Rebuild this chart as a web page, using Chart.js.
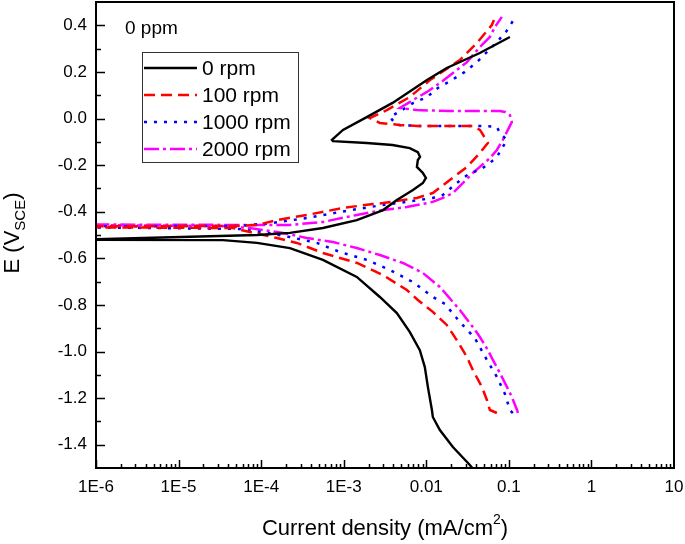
<!DOCTYPE html>
<html>
<head>
<meta charset="utf-8">
<script src="https://cdn.jsdelivr.net/npm/chart.js@4.4.1/dist/chart.umd.min.js"></script>
<style>
  html, body { margin: 0; padding: 0; background: #fff; }
  #wrap { width: 685px; height: 544px; }
</style>
</head>
<body>
<div id="wrap"><canvas id="polChart" width="685" height="544"></canvas></div>
<script>
// Tick labels
const xTickValues = [1e-6, 1e-5, 1e-4, 1e-3, 0.01, 0.1, 1, 10];
const xTickLabels = ['1E-6', '1E-5', '1E-4', '1E-3', '0.01', '0.1', '1', '10'];
const yTickValues = [-1.4, -1.2, -1.0, -0.8, -0.6, -0.4, -0.2, 0.0, 0.2, 0.4];
const seriesLabels = ['0 rpm', '100 rpm', '1000 rpm', '2000 rpm'];
const noteText = '0 ppm';

// 0 rpm: cathodic branch (bottom up), then anodic branch
const current0 = [0.038, 0.0337, 0.021, 0.0146, 0.012, 0.0117, 0.01045, 0.0096, 0.00835, 0.0063, 0.0044, 0.00274, 0.00144, 0.00056, 0.000223, 0.000089, 0.0000345, 0.0000008,
  0.0000008, 0.000089, 0.000223, 0.00056, 0.00144, 0.003, 0.0044, 0.0069, 0.0091, 0.0099, 0.0091, 0.0077, 0.0079, 0.0084, 0.0079, 0.0063, 0.0039, 0.0019, 0.00074, 0.00072, 0.00098, 0.0019, 0.0039, 0.0102, 0.0177, 0.0445, 0.103];
const potential0 = [-1.51, -1.487, -1.41, -1.337, -1.281, -1.251, -1.152, -1.067, -0.994, -0.916, -0.835, -0.766, -0.680, -0.607, -0.556, -0.534, -0.522, -0.521,
  -0.519, -0.500, -0.491, -0.470, -0.436, -0.393, -0.350, -0.307, -0.277, -0.255, -0.234, -0.208, -0.178, -0.165, -0.144, -0.127, -0.114, -0.105, -0.097, -0.092, -0.049, 0.006, 0.067, 0.165, 0.217, 0.281, 0.350];

// 100 rpm
const current100 = [0.0716, 0.0589, 0.0542, 0.0471, 0.0366, 0.0311, 0.0234, 0.0177, 0.012, 0.0079, 0.00582, 0.00299, 0.00145, 0.00056, 0.000271, 0.000155, 0.000073, 0.0000456, 0.0000008,
  0.0000008, 0.0000456, 0.000089, 0.000155, 0.000358, 0.00098, 0.00226, 0.00299, 0.00769, 0.012, 0.0193, 0.0311, 0.0446, 0.0557, 0.0471, 0.0446, 0.0366, 0.0193, 0.0077, 0.00479, 0.00274, 0.00207, 0.00333, 0.0063, 0.0111, 0.0255, 0.041, 0.0622, 0.066];
const potential100 = [-1.264, -1.251, -1.208, -1.152, -1.079, -1.024, -0.951, -0.886, -0.830, -0.779, -0.736, -0.672, -0.620, -0.577, -0.534, -0.513, -0.487, -0.470, -0.467,
  -0.463, -0.461, -0.457, -0.436, -0.414, -0.384, -0.367, -0.363, -0.341, -0.320, -0.264, -0.208, -0.148, -0.105, -0.062, -0.049, -0.032, -0.032, -0.032, -0.028, -0.019, 0.002, 0.036, 0.092, 0.165, 0.251, 0.324, 0.401, 0.423];

// 1000 rpm
const current1000 = [0.1117, 0.1028, 0.0896, 0.0716, 0.0542, 0.0387, 0.0255, 0.0168, 0.012, 0.00689, 0.00362, 0.00191, 0.000899, 0.000474, 0.000223, 0.000117, 0.000055, 0.0000008,
  0.0000008, 0.000055, 0.000139, 0.000358, 0.000899, 0.00299, 0.00582, 0.012, 0.0159, 0.0234, 0.0337, 0.0446, 0.0589, 0.0716, 0.0845, 0.0947, 0.0778, 0.0716, 0.0471, 0.0159, 0.00835, 0.0044, 0.00362, 0.00507, 0.00689, 0.0102, 0.0138, 0.0204, 0.0293, 0.041, 0.0542, 0.0716, 0.092, 0.1117];
const potential1000 = [-1.264, -1.251, -1.182, -1.109, -1.036, -0.942, -0.873, -0.796, -0.766, -0.702, -0.650, -0.607, -0.573, -0.534, -0.509, -0.491, -0.474, -0.467,
  -0.463, -0.461, -0.448, -0.427, -0.401, -0.371, -0.358, -0.341, -0.328, -0.277, -0.234, -0.221, -0.191, -0.165, -0.122, -0.092, -0.062, -0.036, -0.032, -0.032, -0.032, -0.028, 0.006, 0.036, 0.066, 0.092, 0.131, 0.165, 0.200, 0.242, 0.285, 0.328, 0.371, 0.418];

// 2000 rpm
const current2000 = [0.1285, 0.1256, 0.1086, 0.0947, 0.0778, 0.064, 0.0557, 0.0446, 0.0366, 0.0255, 0.0146, 0.0091, 0.00521, 0.00274, 0.00144, 0.00074, 0.000358, 0.000184, 0.000073, 0.0000315, 0.0000008,
  0.0000008, 0.000089, 0.000223, 0.00056, 0.00144, 0.00299, 0.00582, 0.012, 0.0159, 0.021, 0.0277, 0.0366, 0.0471, 0.0589, 0.0716, 0.0845, 0.0973, 0.1086, 0.103, 0.0896, 0.0778, 0.0193, 0.00769, 0.00479, 0.00689, 0.0102, 0.0146, 0.021, 0.0311, 0.0446, 0.0589, 0.0678, 0.0822];
const potential2000 = [-1.264, -1.251, -1.195, -1.152, -1.092, -1.036, -0.994, -0.938, -0.895, -0.822, -0.723, -0.663, -0.620, -0.586, -0.556, -0.530, -0.513, -0.491, -0.470, -0.461, -0.458,
  -0.455, -0.457, -0.457, -0.444, -0.414, -0.393, -0.380, -0.358, -0.341, -0.320, -0.277, -0.234, -0.200, -0.170, -0.135, -0.092, -0.049, -0.015, 0.015, 0.028, 0.032, 0.032, 0.036, 0.045, 0.079, 0.114, 0.152, 0.195, 0.242, 0.307, 0.350, 0.393, 0.436];

const FONT = '"Liberation Sans", Arial, Helvetica, sans-serif';

function toPoints(xs, ys) {
    return xs.map((v, i) => ({ x: v, y: ys[i] }));
}

const datasets = [
    { label: seriesLabels[0], data: toPoints(current0, potential0), borderColor: '#000000', borderWidth: 2.4, borderDash: [] },
    { label: seriesLabels[1], data: toPoints(current100, potential100), borderColor: '#ff0000', borderWidth: 2.5, borderDash: [11, 6] },
    { label: seriesLabels[2], data: toPoints(current1000, potential1000), borderColor: '#0000ff', borderWidth: 2.5, borderDash: [3, 7] },
    { label: seriesLabels[3], data: toPoints(current2000, potential2000), borderColor: '#ff00ff', borderWidth: 2.5, borderDash: [15, 4, 3, 4] }
].map(d => Object.assign(d, { showLine: true, pointRadius: 0, tension: 0, fill: false }));

// Frame, inward ticks, axis titles, note and legend
const decorPlugin = {
    id: 'decor',
    afterDraw(chart) {
        const { ctx, chartArea: a, scales: { x, y } } = chart;
        ctx.save();
        ctx.strokeStyle = '#000';
        ctx.fillStyle = '#000';

        // x ticks (major + minor), pointing inward
        ctx.lineWidth = 1.5;
        ctx.beginPath();
        for (let d = -6; d <= 0; d++) {
            for (let m = 1; m <= 9; m++) {
                const px = Math.round(x.getPixelForValue(m * Math.pow(10, d))) + 0.5;
                const len = m === 1 ? 8 : 4;
                ctx.moveTo(px, a.bottom);
                ctx.lineTo(px, a.bottom - len);
            }
        }
        // y ticks
        yTickValues.forEach(v => {
            const py = Math.round(y.getPixelForValue(v)) + 0.5;
            ctx.moveTo(a.left, py);
            ctx.lineTo(a.left + 9, py);
        });
        for (let v = -1.3; v < 0.45; v += 0.2) {
            const py = Math.round(y.getPixelForValue(v)) + 0.5;
            ctx.moveTo(a.left, py);
            ctx.lineTo(a.left + 5, py);
        }
        ctx.stroke();

        // frame
        ctx.lineWidth = 2;
        ctx.strokeRect(a.left, a.top, a.right - a.left, a.bottom - a.top);

        // x title with superscript
        const xMain = 'Current density (mA/cm';
        ctx.font = '22px ' + FONT;
        const w1 = ctx.measureText(xMain).width;
        const w3 = ctx.measureText(')').width;
        ctx.font = '14px ' + FONT;
        const w2 = ctx.measureText('2').width;
        let tx = 385 - (w1 + w2 + w3) / 2;
        ctx.textBaseline = 'alphabetic';
        ctx.textAlign = 'left';
        ctx.font = '22px ' + FONT;
        ctx.fillText(xMain, tx, 535);
        ctx.font = '14px ' + FONT;
        ctx.fillText('2', tx + w1, 524);
        ctx.font = '22px ' + FONT;
        ctx.fillText(')', tx + w1 + w2, 535);

        // y title with subscript, rotated
        ctx.save();
        ctx.translate(19, 233);
        ctx.rotate(-Math.PI / 2);
        ctx.font = '22px ' + FONT;
        const yA = ctx.measureText('E (V').width;
        const yC = ctx.measureText(')').width;
        ctx.font = '15px ' + FONT;
        const yB = ctx.measureText('SCE').width;
        let ty = -(yA + yB + yC) / 2;
        ctx.font = '22px ' + FONT;
        ctx.fillText('E (V', ty, 0);
        ctx.font = '15px ' + FONT;
        ctx.fillText('SCE', ty + yA, 6);
        ctx.font = '22px ' + FONT;
        ctx.fillText(')', ty + yA + yB, 0);
        ctx.restore();

        // note
        ctx.font = '19px ' + FONT;
        ctx.textBaseline = 'middle';
        ctx.fillText(noteText, 125, 29);

        // legend box
        ctx.lineWidth = 1;
        ctx.strokeStyle = '#333';
        ctx.strokeRect(142.5, 52.5, 156, 110);
        ctx.font = '21px ' + FONT;
        chart.data.datasets.forEach((ds, i) => {
            const ly = 68 + i * 27;
            ctx.beginPath();
            ctx.strokeStyle = ds.borderColor;
            ctx.lineWidth = ds.borderWidth;
            ctx.setLineDash(ds.borderDash);
            ctx.moveTo(144, ly);
            ctx.lineTo(197, ly);
            ctx.stroke();
            ctx.setLineDash([]);
            ctx.fillStyle = '#000';
            ctx.fillText(ds.label, 202, ly + 1);
        });
        ctx.restore();
    }
};

const config = {
    type: 'scatter',
    data: { datasets: datasets },
    options: {
        responsive: false,
        animation: false,
        devicePixelRatio: 1,
        layout: { padding: { left: 0, right: 11, top: 2, bottom: 0 } },
        plugins: {
            legend: { display: false },
            tooltip: { enabled: false }
        },
        scales: {
            x: {
                type: 'logarithmic',
                min: 1e-6,
                max: 10,
                grid: { display: false, drawTicks: false },
                border: { display: false },
                afterBuildTicks: s => { s.ticks = xTickValues.map(v => ({ value: v, major: true })); },
                afterFit: s => { s.height = 76; s.paddingLeft = 0; s.paddingRight = 0; },
                ticks: {
                    padding: 9,
                    maxRotation: 0,
                    autoSkip: false,
                    color: '#000',
                    font: { family: FONT, size: 17 },
                    callback: (v, i) => xTickLabels[i]
                }
            },
            y: {
                min: -1.5,
                max: 0.5,
                grid: { display: false, drawTicks: false },
                border: { display: false },
                afterBuildTicks: s => { s.ticks = yTickValues.map(v => ({ value: v })); },
                afterFit: s => { s.width = 96; s.paddingTop = 0; s.paddingBottom = 0; },
                ticks: {
                    padding: 9,
                    color: '#000',
                    font: { family: FONT, size: 17 },
                    callback: v => v.toFixed(1)
                }
            }
        }
    },
    plugins: [decorPlugin]
};

const ctx = document.getElementById('polChart').getContext('2d');
const polChart = new Chart(ctx, config);
</script>
</body>
</html>
